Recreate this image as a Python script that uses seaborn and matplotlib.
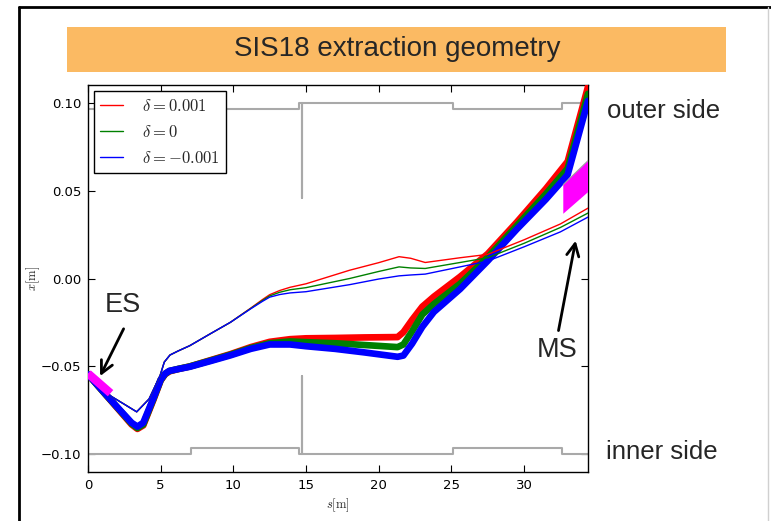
import matplotlib
matplotlib.use("Agg")
import matplotlib.pyplot as plt
import seaborn as sns
from matplotlib.patches import Rectangle, Polygon
from matplotlib.lines import Line2D

# ---------------- data ----------------
s_band = [0.0, 1.0, 2.0, 3.0, 3.4, 3.8, 4.5, 5.0, 5.3, 5.6, 6.2, 7.0, 8.4, 9.8, 11.2, 12.5,
          13.9, 15.0, 17.0, 19.0, 21.3, 21.7, 22.3, 23.0, 23.8, 25.6, 27.5, 29.5,
          31.5, 33.0, 34.4]
band_red = [-0.0545, -0.0640, -0.0735, -0.0830, -0.0855, -0.0835, -0.0690, -0.0580,
            -0.0545, -0.0528, -0.0515, -0.0500, -0.0465, -0.0430, -0.0390, -0.0360,
            -0.0345, -0.0340, -0.0338, -0.0335, -0.0333, -0.0305, -0.0235, -0.0160,
            -0.0103, 0.0010, 0.0140, 0.0320, 0.0510, 0.0665, 0.1090]
band_green = [-0.0545, -0.0640, -0.0732, -0.0825, -0.0850, -0.0830, -0.0685, -0.0578,
              -0.0543, -0.0526, -0.0514, -0.0500, -0.0467, -0.0433, -0.0395, -0.0368,
              -0.0358, -0.0362, -0.0368, -0.0378, -0.0390, -0.0375, -0.0300, -0.0205,
              -0.0145, -0.0030, 0.0120, 0.0300, 0.0480, 0.0625, 0.1050]
band_blue = [-0.0545, -0.0638, -0.0730, -0.0820, -0.0842, -0.0820, -0.0680, -0.0575,
             -0.0541, -0.0525, -0.0515, -0.0502, -0.0470, -0.0437, -0.0400, -0.0375,
             -0.0375, -0.0385, -0.0400, -0.0420, -0.0445, -0.0438, -0.0370, -0.0275,
             -0.0190, -0.0060, 0.0100, 0.0280, 0.0450, 0.0590, 0.1010]

s_thin = [0.0, 1.5, 2.5, 3.35, 4.2, 4.95, 5.25, 5.64, 6.2, 7.0, 8.4, 9.8, 11.2, 12.0, 12.5,
          13.2, 13.9, 15.0, 18.0, 20.0, 21.4, 22.2, 23.2, 25.6, 27.5, 30.0, 32.5, 34.4]
thin_red = [-0.0545, -0.0665, -0.0715, -0.0758, -0.0685, -0.0554, -0.0475, -0.0435,
            -0.0412, -0.0382, -0.0315, -0.0249, -0.0168, -0.0120, -0.0092, -0.0068,
            -0.0050, -0.0030, 0.0047, 0.0090, 0.0124, 0.0115, 0.0091, 0.0118, 0.0137,
            0.0220, 0.0310, 0.0400]
thin_green = [-0.0545, -0.0665, -0.0715, -0.0758, -0.0685, -0.0554, -0.0475, -0.0435,
              -0.0412, -0.0382, -0.0315, -0.0249, -0.0170, -0.0125, -0.0099, -0.0078,
              -0.0064, -0.0052, 0.0000, 0.0040, 0.0066, 0.0060, 0.0057, 0.0091, 0.0118,
              0.0200, 0.0290, 0.0372]
thin_blue = [-0.0545, -0.0665, -0.0715, -0.0758, -0.0685, -0.0554, -0.0475, -0.0435,
             -0.0412, -0.0382, -0.0315, -0.0249, -0.0172, -0.0130, -0.0106, -0.0091,
             -0.0082, -0.0075, -0.0035, -0.0003, 0.0015, 0.0020, 0.0025, 0.0066, 0.0099,
             0.0180, 0.0265, 0.0349]

deltas = [r"$\delta=0.001$", r"$\delta=0$", r"$\delta=-0.001$"]

outer_s = [0.0, 14.55, 14.55, 14.73, 14.73, 14.73, 25.1, 25.1, 32.6, 32.6, 34.4]
outer_x = [0.0962, 0.0962, 0.100, 0.100, 0.046, 0.100, 0.100, 0.0962, 0.0962, 0.100, 0.100]
inner_s = [0.0, 7.07, 7.07, 14.5, 14.5, 14.73, 14.73, 14.73, 25.1, 25.1, 32.6, 32.6, 34.4]
inner_x = [-0.100, -0.100, -0.0962, -0.0962, -0.100, -0.100, -0.0557, -0.100, -0.100,
           -0.0962, -0.0962, -0.100, -0.100]

es_s = [0.0, 1.55]
es_x = [-0.0540, -0.0652]
ms_s = [32.7, 35.0, 35.0, 32.7]
ms_x = [0.0534, 0.0718, 0.0534, 0.0368]

# ---------------- style ----------------
sns.set_style("white")
plt.rcParams.update({
    "font.family": ["DejaVu Sans"],
    "mathtext.fontset": "cm",
    "xtick.direction": "in",
    "ytick.direction": "in",
    "xtick.top": True,
    "ytick.right": True,
    "xtick.bottom": True,
    "ytick.left": True,
    "xtick.major.size": 5,
    "ytick.major.size": 5,
    "xtick.major.width": 0.8,
    "ytick.major.width": 0.8,
    "axes.edgecolor": "black",
    "axes.linewidth": 1.0,
    "xtick.color": "black",
    "ytick.color": "black",
})

W, H = 771, 521
fig = plt.figure(figsize=(W / 100, H / 100), dpi=100)
fig.patch.set_facecolor("white")


def fx(px):
    return px / W


def fy(py):
    return 1 - py / H


# slide frame
fig.add_artist(Line2D([fx(19), fx(19)], [fy(7), 0], color="black", lw=2))
fig.add_artist(Line2D([fx(19), 1], [fy(7), fy(7)], color="black", lw=2))
fig.add_artist(Line2D([fx(768), fx(768)], [fy(7), 0], color="#d0d0d0", lw=1))

# title box
fig.add_artist(Rectangle((fx(67), fy(72)), fx(726) - fx(67), fy(27) - fy(72),
                         facecolor="#FBBA63", edgecolor="none", transform=fig.transFigure))
fig.text(fx(397), fy(49), "SIS18 extraction geometry", ha="center", va="center",
         fontsize=20, family=["Liberation Sans", "DejaVu Sans"])

ax = fig.add_axes([fx(88), fy(472), fx(588) - fx(88), fy(85) - fy(472)])

# apertures
ax.plot(outer_s, outer_x, color="#a9a9a9", lw=1.5, zorder=1)
ax.plot(inner_s, inner_x, color="#a9a9a9", lw=1.5, zorder=1)

colors = ["#ff0000", "#008000", "#0000ff"]
bands = [band_red, band_green, band_blue]
thins = [thin_red, thin_green, thin_blue]
for c, b, t, lab in zip(colors, bands, thins, deltas):
    sns.lineplot(x=s_band, y=b, color=c, lw=4.8, sort=False, estimator=None,
                 ax=ax, label="_nolegend_", zorder=3)
    sns.lineplot(x=s_thin, y=t, color=c, lw=1.0, sort=False, estimator=None,
                 ax=ax, label=lab, zorder=4)

# septa
ax.plot(es_s, es_x, color="#ff00ff", lw=6, solid_capstyle="butt", zorder=5)
ax.add_patch(Polygon(list(zip(ms_s, ms_x)), closed=True, facecolor="#ff00ff",
                     edgecolor="none", zorder=5))
ax.plot([ms_s[0], ms_s[1]], [ms_x[0], ms_x[1]], color="#a0a0a0", lw=0.8, zorder=6)

ax.set_xlim(0, 34.4)
ax.set_ylim(-0.11, 0.11)
ax.set_xticks([0, 5, 10, 15, 20, 25, 30])
ax.set_yticks([-0.10, -0.05, 0.0, 0.05, 0.10])
ax.set_yticklabels(["\u22120.10", "\u22120.05", "0.00", "0.05", "0.10"])
ax.tick_params(labelsize=9.5, pad=5)
ax.set_xlabel(r"$s[\mathrm{m}]$", fontsize=9, labelpad=3)
ax.set_ylabel(r"$x[\mathrm{m}]$", fontsize=9, labelpad=-1)

leg = ax.legend(loc="upper left", fontsize=12, frameon=True, fancybox=False,
                edgecolor="black", framealpha=1, borderaxespad=0.35,
                handlelength=1.4, handletextpad=1.15, labelspacing=0.5,
                borderpad=0.35)
leg.get_frame().set_linewidth(1.0)

# annotations
ax.annotate("", xy=(0.83, -0.0555), xytext=(2.45, -0.0286),
            arrowprops=dict(arrowstyle="->", color="black", lw=2, mutation_scale=22,
                            shrinkA=0, shrinkB=0), annotation_clip=False)
ax.annotate("", xy=(33.55, 0.0215), xytext=(32.37, -0.0296),
            arrowprops=dict(arrowstyle="->", color="black", lw=2, mutation_scale=22,
                            shrinkA=0, shrinkB=0), annotation_clip=False)

tfont = ["Liberation Sans", "DejaVu Sans"]
fig.text(fx(123), fy(305), "ES", ha="center", va="center", fontsize=19.5, family=tfont)
fig.text(fx(557), fy(350), "MS", ha="center", va="center", fontsize=19.5, family=tfont)
fig.text(fx(664), fy(111), "outer side", ha="center", va="center", fontsize=18.5, family=tfont)
fig.text(fx(662), fy(452), "inner side", ha="center", va="center", fontsize=18.5, family=tfont)

fig.savefig("out.png", dpi=100)
